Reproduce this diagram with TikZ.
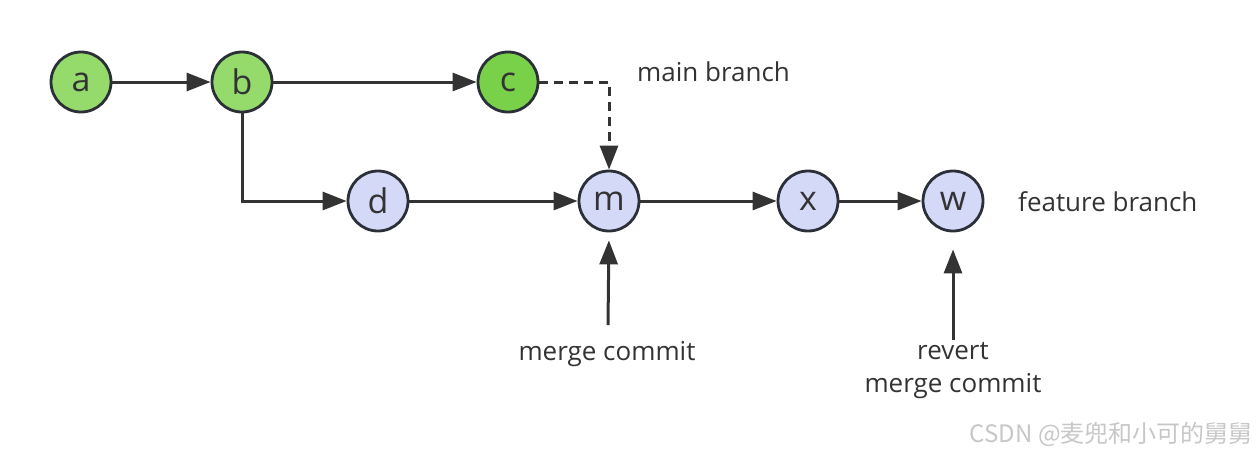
\documentclass[tikz,border=0pt]{standalone}
\usepackage{fontspec}
\setmainfont{Open Sans}
\newfontfamily\cjk{Noto Sans CJK SC}
\usetikzlibrary{arrows.meta}
\definecolor{greenA}{HTML}{95DB6C}
\definecolor{greenC}{HTML}{79D14A}
\definecolor{lav}{HTML}{D5D9F8}
\definecolor{edge}{HTML}{2B2F38}
\definecolor{ink}{HTML}{333333}
\tikzset{
  commit/.style={circle, draw=edge, line width=2.8pt, minimum size=60pt, inner sep=0pt, text=ink, font=\fontsize{34}{34}\selectfont},
  gcommit/.style={commit, fill=greenA},
  ccommit/.style={commit, fill=greenC},
  fcommit/.style={commit, fill=lav},
  arr/.style={draw=ink, line width=3pt, -{Triangle[length=24pt,width=18pt]}},
  lbl/.style={text=ink, font=\fontsize{26}{33}\selectfont, inner sep=0pt, align=center}
}
\begin{document}
\begin{tikzpicture}[x=1pt,y=-1pt]
\useasboundingbox (0,0) rectangle (1260,456);
\node[gcommit] (a) at (81,82) {\raisebox{-2pt}{a}};
\node[gcommit] (b) at (242,82) {\raisebox{-2pt}{b}};
\node[ccommit] (c) at (508,82) {\raisebox{-2pt}{c}};
\node[fcommit] (d) at (378,201) {\raisebox{-2pt}{d}};
\node[fcommit] (m) at (609,201) {\raisebox{-2pt}{m}};
\node[fcommit] (x) at (808,201) {\raisebox{-2pt}{x}};
\node[fcommit] (w) at (953,201) {\raisebox{-2pt}{w}};

\node[lbl, anchor=west] (mb) at (637,72) {main branch};
\node[lbl, anchor=west] (fb) at (1018,202) {feature branch};
\node[lbl] (mc) at (607,354) {merge commit};
\node[lbl] (rc) at (953,371) {revert\\merge commit};
\node[anchor=east, inner sep=0pt, text=black!22, font=\cjk\fontsize{24}{24}\selectfont] (wm) at (1253,434) {CSDN @麦兜和小可的舅舅};

\draw[arr] (a) -- (b);
\draw[arr] (b) -- (c);
\draw[arr] (b.south) |- (d.west);
\draw[arr] (d) -- (m);
\draw[arr] (m) -- (x);
\draw[arr] (x) -- (w);
\draw[arr, dashed, dash pattern=on 9pt off 6pt] (c.east) -| (m.north);
\coordinate (mt) at (608,325);
\coordinate (wt) at (953,340);
\draw[arr, shorten >=8pt] (mt) -- (m.south);
\draw[arr, shorten >=17pt] (wt) -- (w.south);
\end{tikzpicture}
\end{document}
